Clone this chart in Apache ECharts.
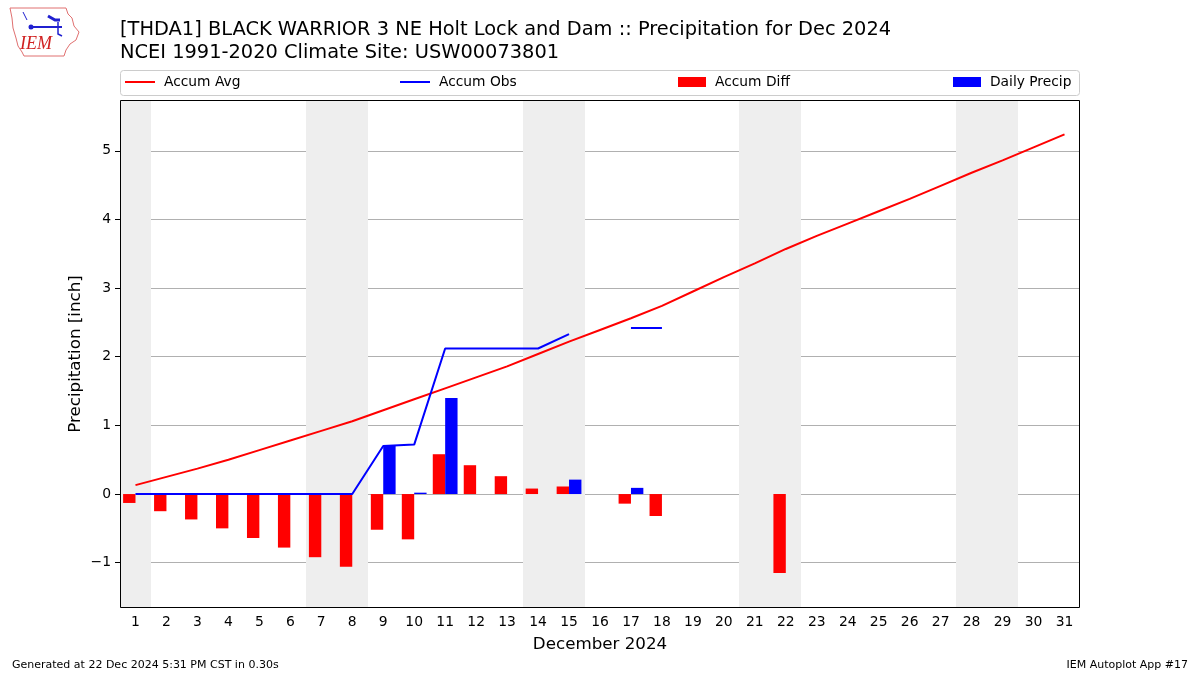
<!DOCTYPE html>
<html>
<head>
<meta charset="utf-8">
<script src="https://cdn.jsdelivr.net/npm/echarts@6/dist/echarts.min.js"></script>
<style>html,body{margin:0;padding:0;background:#fff}#c{width:1200px;height:675px}</style>
</head>
<body>
<div id="c"></div>
<script>
// ---- data ----
const dayLabels = ['1','2','3','4','5','6','7','8','9','10','11','12','13','14','15','16','17','18','19','20','21','22','23','24','25','26','27','28','29','30','31'];
const accumAvg = [0.13,0.25,0.37,0.50,0.64,0.78,0.92,1.06,1.22,1.38,1.54,1.70,1.86,2.04,2.22,2.39,2.56,2.74,2.95,3.16,3.36,3.57,3.76,3.94,4.12,4.30,4.49,4.68,4.86,5.05,5.24];
const accumObs = [0,0,0,0,0,0,0,0,0.70,0.72,2.12,2.12,2.12,2.12,2.33,null,2.42,2.42,null,null,null,null,null,null,null,null,null,null,null,null,null];
const accumDiff = [-0.13,-0.25,-0.37,-0.50,-0.64,-0.78,-0.92,-1.06,-0.52,-0.66,0.58,0.42,0.26,0.08,0.11,null,-0.14,-0.32,null,null,null,-1.15,null,null,null,null,null,null,null,null,null];
const dailyPrecip = [0,0,0,0,0,0,0,0,0.70,0.02,1.40,0,0,0,0.21,null,0.09,0,null,null,null,null,null,null,null,null,null,null,null,null,null];
const weekendDays = [1,7,8,14,15,21,22,28,29];
const yTicks = [-1,0,1,2,3,4,5];

// group consecutive weekend days into [first, last] runs
const weekendRuns = [];
weekendDays.forEach(d => {
  const last = weekendRuns[weekendRuns.length-1];
  if (last && d === last[1]+1) last[1] = d; else weekendRuns.push([d, d]);
});

const FONT = 'DejaVu Sans';
const chart = echarts.init(document.getElementById('c'), null, {renderer:'canvas'});
const legendCommon = {top: 75, padding: 0, textStyle:{fontFamily:FONT, fontSize:13.8, color:'#000', padding:[0,0,0,4]}, icon:'rect'};
chart.setOption({
  backgroundColor:'#fff',
  animation:false,
  title:{
    text:'[THDA1] BLACK WARRIOR 3 NE Holt Lock and Dam :: Precipitation for Dec 2024\nNCEI 1991-2020 Climate Site: USW00073801',
    left:120, top:19, padding:0,
    textStyle:{fontFamily:FONT, fontSize:19.4, fontWeight:'normal', color:'#000', lineHeight:22.5}
  },
  legend:[
    Object.assign({}, legendCommon, {left:125, data:['Accum Avg'], itemWidth:30, itemHeight:2}),
    Object.assign({}, legendCommon, {left:400, data:['Accum Obs'], itemWidth:30, itemHeight:2}),
    Object.assign({}, legendCommon, {left:678, data:['Accum Diff'], itemWidth:28, itemHeight:10}),
    Object.assign({}, legendCommon, {left:953, data:['Daily Precip'], itemWidth:28, itemHeight:10})
  ],
  grid:{left:120, right:120, top:100, bottom:67, containLabel:false},
  xAxis:{
    type:'category', data:dayLabels, boundaryGap:true,
    name:'December 2024', nameLocation:'middle', nameGap:28,
    nameTextStyle:{fontFamily:FONT, fontSize:16.7, color:'#000'},
    axisLine:{show:false, onZero:false},
    axisTick:{alignWithLabel:true, length:5, lineStyle:{color:'#000'}},
    axisLabel:{fontFamily:FONT, fontSize:13.9, color:'#000', margin:7, interval:0},
    splitLine:{show:false}
  },
  yAxis:{
    type:'value', min:-1.66, max:5.74, splitNumber:7,
    name:'Precipitation [inch]', nameLocation:'middle', nameGap:36, nameMoveOverlap:false,
    nameTextStyle:{fontFamily:FONT, fontSize:16.7, color:'#000'},
    axisLine:{show:false},
    axisTick:{show:true, length:5, lineStyle:{color:'#000'}, customValues: yTicks},
    axisLabel:{fontFamily:FONT, fontSize:13.9, color:'#000', margin:9, customValues: yTicks,
      formatter:function(v){ if (Math.abs(v-Math.round(v))>1e-6) return ''; return v<0 ? '\u2212'+Math.abs(v) : String(v);} },
    splitLine:{show:true, lineStyle:{color:'#b0b0b0', width:1}, customValues: yTicks}
  },
  graphic:[
    {type:'rect', shape:{x:120.5, y:70.5, width:959, height:25, r:3}, style:{fill:'rgba(255,255,255,0.8)', stroke:'#cccccc', lineWidth:1}, z:-1},
    {type:'rect', shape:{x:120.5, y:100.5, width:959, height:507}, style:{fill:'none', stroke:'#000', lineWidth:1}, z:100, silent:true},
    {type:'text', left:12, top:660, style:{text:'Generated at 22 Dec 2024 5:31 PM CST in 0.30s', font:'11px "DejaVu Sans"', fill:'#000'}},
    {type:'text', right:12, top:660, style:{text:'IEM Autoplot App #17', font:'11px "DejaVu Sans"', fill:'#000'}},
    // logo
    {type:'polyline', shape:{points:[[10,8],[66,8],[68,14],[72,18],[74,26],[79,32],[76,40],[70,44],[66,50],[64,56],[24,56],[22,52],[18,46],[16,38],[13,28],[12,18],[10,8]]}, style:{fill:'none', stroke:'#e07070', lineWidth:1}},
    {type:'text', left:20, top:35, style:{text:'IEM', font:'italic 18px "Liberation Serif"', fill:'#d02020'}},
    {type:'polyline', shape:{points:[[30,27],[62,27]]}, style:{stroke:'#2020d0', lineWidth:2}},
    {type:'circle', shape:{cx:31, cy:27, r:2.5}, style:{fill:'#2020d0'}},
    {type:'polyline', shape:{points:[[48,16],[55,20],[60,20]]}, style:{stroke:'#2020d0', lineWidth:3, fill:'none'}},
    {type:'polyline', shape:{points:[[58,22],[58,34],[62,36]]}, style:{stroke:'#2020d0', lineWidth:1.5, fill:'none'}},
    {type:'polyline', shape:{points:[[23,12],[25,16],[27,20]]}, style:{stroke:'#2020d0', lineWidth:1, fill:'none'}}
  ],
  series:[
    {
      type:'custom', name:'weekend', silent:true, z:0,
      data: weekendRuns.map(r => [r[0]-1, r[1]-1]),
      encode:{x:[0,1]},
      renderItem:function(params, api){
        const cs = params.coordSys;
        const a = api.coord([api.value(0), 0]);
        const b = api.coord([api.value(1), 0]);
        const bw = api.size([1,0])[0];
        return {type:'rect', shape:{x:Math.round(a[0]-bw/2), y:cs.y, width:Math.round(b[0]+bw/2)-Math.round(a[0]-bw/2), height:cs.height}, style:{fill:'#eeeeee'}};
      }
    },
    {type:'bar', name:'Accum Diff', data:accumDiff, barWidth:'40%', barGap:'0%', itemStyle:{color:'#ff0000'}, z:2},
    {type:'bar', name:'Daily Precip', data:dailyPrecip, barWidth:'40%', barGap:'0%', itemStyle:{color:'#0000ff'}, z:2},
    {type:'line', name:'Accum Avg', data:accumAvg, showSymbol:false, symbol:'none', lineStyle:{color:'#ff0000', width:2}, itemStyle:{color:'#ff0000'}, z:3},
    {type:'line', name:'Accum Obs', data:accumObs, showSymbol:false, symbol:'none', connectNulls:false, lineStyle:{color:'#0000ff', width:2}, itemStyle:{color:'#0000ff'}, z:3}
  ]
});
</script>
</body>
</html>
